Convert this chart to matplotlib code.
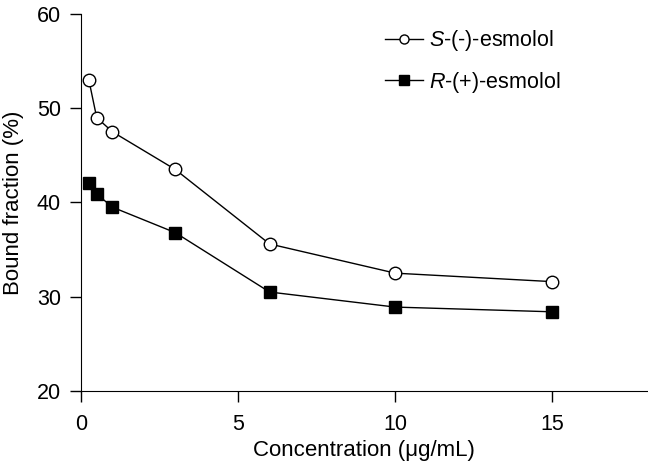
import matplotlib
matplotlib.use("Agg")
import matplotlib.pyplot as plt
from matplotlib.lines import Line2D

plt.rcParams["font.family"] = ["Liberation Sans", "DejaVu Sans"]
plt.rcParams["mathtext.fontset"] = "custom"
plt.rcParams["mathtext.rm"] = "Liberation Sans"
plt.rcParams["mathtext.it"] = "Liberation Sans:italic"

conc = [0.25, 0.5, 1, 3, 6, 10, 15]
s_esmolol = [53.0, 49.0, 47.5, 43.5, 35.6, 32.5, 31.6]
r_esmolol = [42.1, 40.9, 39.5, 36.8, 30.5, 28.9, 28.4]

fig = plt.figure(figsize=(6.48, 4.66), dpi=100)
ax = fig.add_axes([0.125, 0.161, 0.873, 0.809])

ax.plot(conc, s_esmolol, color="black", lw=1, marker="o", ms=9,
        mfc="white", mec="black", mew=1, zorder=3)
ax.plot(conc, r_esmolol, color="black", lw=1, marker="s", ms=8,
        mfc="black", mec="black", zorder=3)

ax.set_xlim(0, 18)
ax.set_ylim(20, 60)
ax.set_xticks([0, 5, 10, 15])
ax.set_yticks([20, 30, 40, 50, 60])
ax.spines["top"].set_visible(False)
ax.spines["right"].set_visible(False)
ax.tick_params(direction="out", length=8, width=1, labelsize=15.5)
ax.tick_params(axis="x", pad=8.5)
ax.tick_params(axis="y", pad=6.5)
ax.set_xlabel("Concentration (\u03bcg/mL)", fontsize=16, labelpad=3.5)
ax.set_ylabel("Bound fraction (%)", fontsize=16, labelpad=9)

handles = [
    Line2D([], [], color="black", lw=1, marker="o", ms=6.5, mfc="white", mec="black"),
    Line2D([], [], color="black", lw=1, marker="s", ms=7.5, mfc="black", mec="black"),
]
labels = ["$\\mathit{S}$-(-)-esmolol", "$\\mathit{R}$-(+)-esmolol"]
ax.legend(handles, labels, loc="upper left", bbox_to_anchor=(0.503, 1.013),
          frameon=False, fontsize=15.5, handlelength=1.75, labelspacing=0.75,
          handletextpad=0.3)

fig.savefig("out.png", dpi=100)
